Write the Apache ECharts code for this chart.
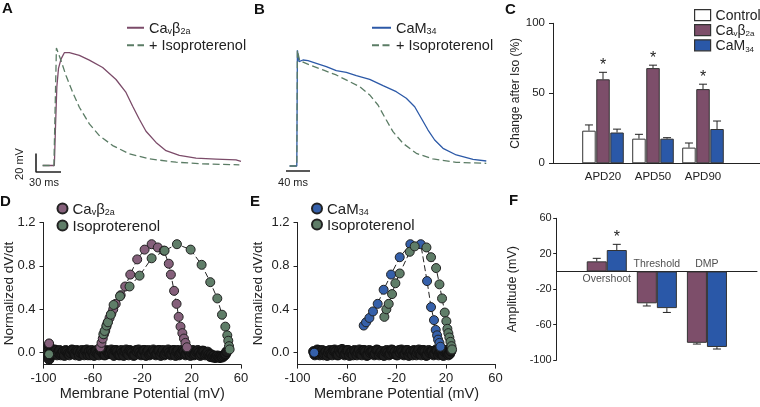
<!DOCTYPE html>
<html><head><meta charset="utf-8">
<script src="https://cdn.jsdelivr.net/npm/echarts@6/dist/echarts.min.js"></script>
<style>html,body{margin:0;padding:0;background:#fff}#c{width:760px;height:407px}</style>
</head><body><div id="c"></div>
<script>
// ================= DATA =================
// Panel A: action potentials, [time (ms), membrane potential (mV)]
const apA_cav = [[8,-85],[22,-85],[23.5,-40],[25,0],[27,20],[30,30],[34,37],[40,37],[52,34],[64,29],[80,21],[96,8],[108,-6],[116,-21],[124,-35],[132,-48],[144,-60],[156,-69],[172,-74],[192,-77],[216,-78],[240,-79],[246,-80.5]];
const apA_iso = [[8,-85],[21.5,-85],[24.5,42],[30,28.5],[36,12.3],[44,-5.8],[52,-22],[64,-40],[76,-52.6],[92,-63.4],[112,-72.4],[136,-77.8],[168,-81.4],[200,-83.2],[244,-84.2]];
// Panel B
const apB_cam = [[6,-85],[18,-85],[19,40],[21.7,27.8],[28.3,29.6],[36.7,28.8],[50.5,26],[67.2,22.4],[83.8,18],[100.5,16.3],[117.2,12.6],[139.5,8.7],[161.7,1.8],[183.8,-4.7],[200.5,-11.8],[214.5,-20.9],[225.5,-33.4],[236.7,-46.1],[247.8,-56.9],[261.7,-65.9],[283.8,-73.1],[311.7,-77.8],[333.8,-79.6]];
const apB_iso = [[6,-85],[18,-85],[19,40],[22.8,28.8],[39.5,24.2],[61.7,18.8],[83.8,13.4],[106.2,6.1],[122.8,0.7],[139.5,-8.2],[153.3,-19.1],[167.2,-35.3],[178.3,-47.9],[195,-60.5],[217.2,-71.3],[245,-77.4],[283.8,-81],[333.8,-82.1]];
const scaleA = {ms:30, mV:20};
const scaleB = {ms:40};

// Panel C: change after Iso (%)
const apdCats = ['APD20','APD50','APD90'];
const ctrlVals = [23.3,17.6,11.2], ctrlErr = [4.1,3.1,3.3];
const cavVals  = [60,68,53],       cavErr  = [5,2.1,3.5];
const camVals  = [22,17.6,24.5],   camErr  = [2.4,0.7,5.7];
const cavSigC  = [1,1,1];

// Panel D: phase plots [Vm (mV), normalized dV/dt]
const loopD_cav = [[-54,0.05],[-53,0.09],[-52,0.13],[-51,0.17],[-50,0.2],[-49,0.24],[-48,0.28],[-46.5,0.32],[-45,0.36],[-43.5,0.40],[-41.5,0.45],[-37.5,0.53],[-33.8,0.61],[-29.7,0.72],[-24.1,0.86],[-18.1,0.95],[-12.4,1.0],[-7.4,0.97],[-2.5,0.94],[1.5,0.82],[3.2,0.72],[5.8,0.57],[7.8,0.45],[9.5,0.33],[11,0.24],[12.5,0.18],[13.8,0.13],[15,0.09],[16.2,0.05]];
const loopD_iso = [[-51.5,0.17],[-50.5,0.2],[-49,0.25],[-47.8,0.28],[-45.5,0.35],[-43.2,0.44],[-38,0.52],[-30.3,0.61],[-22.2,0.71],[-12.4,0.87],[-1.9,0.94],[8.1,1.0],[19.2,0.95],[28.1,0.81],[35.1,0.65],[40.8,0.5],[44.6,0.35],[47.3,0.24],[48.9,0.16],[49.7,0.11],[50.3,0.06],[50.8,0.03]];
const restD_cav = [[-95.5,0.085]];
const restD_iso = [[-95.5,-0.015]];
const baseD = [[-95.5,0.06],[-95.5,0.02],[-95.5,-0.03],[-95.5,-0.06],[-94,0.01],[-93,-0.02],[-92,-0.01],[-91,0.025],[-90,0.02],[-89,-0.02],[-88,0],[-87,0.02],[-86,-0.02],[-85,-0.01],[-84,0.01],[-83,-0.025],[-82,0.02],[-81,0.01],[-80,-0.01],[-79,-0.02],[-78,0],[-77,0.025],[-76,0.02],[-75,-0.01],[-74,-0.02],[-73,0.02],[-72,0.01],[-71,-0.025],[-70,0],[-69,0.02],[-68,-0.01],[-67,-0.02],[-66,0.02],[-65,0.025],[-64,-0.02],[-63,0.01],[-62,-0.02],[-61,0.02],[-60,0],[-59,-0.025],[-58,0.01],[-57,0.02],[-56,-0.01],[-55,-0.02],[-54,0.02],[-53,0.025],[-52,0],[-51,-0.02],[-50,-0.02],[-49,0.02],[-48,0.01],[-47,-0.01],[-46,0],[-45,0.025],[-44,-0.01],[-43,-0.025],[-42,0.02],[-41,0.02],[-40,0.01],[-39,-0.02],[-38,-0.02],[-37,0.02],[-36,0],[-35,-0.025],[-34,0.01],[-33,0.025],[-32,-0.01],[-31,-0.02],[-30,0.02],[-29,0.01],[-28,0],[-27,-0.025],[-26,-0.02],[-25,0.02],[-24,0.01],[-23,0.025],[-22,0],[-21,-0.02],[-20,-0.01],[-19,0.02],[-18,0.02],[-17,-0.025],[-16,0.01],[-15,0.02],[-14,-0.02],[-13,-0.01],[-12,0],[-11,0.025],[-10,0.01],[-9,-0.02],[-8,-0.01],[-7,0.02],[-6,0.02],[-5,-0.025],[-4,0],[-3,0.02],[-2,-0.02],[-1,-0.01],[0,0.01],[1,0.025],[2,0],[3,-0.02],[4,-0.01],[5,0.02],[6,0.02],[7,-0.025],[8,0.01],[9,0.02],[10,-0.02],[11,-0.01],[12,0],[13,0.025],[14,0.01],[15,-0.02],[16,-0.01],[17,0.02],[18,0.01],[19,-0.025],[20,0],[21,0.02],[22,-0.02],[23,-0.01],[24,0.01],[25,0.02],[26,0],[27,-0.025],[28,-0.01],[29,0.015],[30,0.01],[31,-0.02],[32,-0.01],[33,0.005],[34,-0.02],[35,-0.035],[36,-0.02],[37,-0.04],[38,-0.03],[39,-0.045],[40,-0.04],[41,-0.03],[42,-0.04],[43,-0.045],[44,-0.035],[45,-0.04],[46,-0.03],[47,-0.02],[47.5,-0.01],[48.5,0.01]];

// Panel E
const loopE_cam = [[-46.5,0.25],[-44.6,0.28],[-41.9,0.32],[-39,0.38],[-35.2,0.45],[-30.4,0.58],[-24.4,0.72],[-17.4,0.88],[-8.8,1.0],[-0.4,1.0],[4.7,0.66],[7.9,0.42],[10.3,0.3],[11.7,0.21],[12.8,0.16],[13.6,0.12],[14.7,0.09],[15.5,0.055]];
const loopE_iso = [[-29.8,0.33],[-28.2,0.40],[-26.3,0.45],[-23.6,0.54],[-20.9,0.64],[-17.4,0.73],[-9.3,0.93],[-5.3,0.98],[4.2,0.97],[7.9,0.88],[12,0.78],[14.7,0.63],[16.8,0.5],[19,0.37],[20.3,0.29],[21.1,0.22],[21.9,0.18],[22.7,0.14],[23.6,0.1],[24.4,0.06],[24.9,0.03]];
const restE_cam = [[-86.5,0]];
const baseE = [[-87,0.01],[-86,-0.02],[-85,-0.01],[-84,0.025],[-83,0.02],[-82,-0.02],[-81,0],[-80,0.02],[-79,-0.02],[-78,-0.01],[-77,0.01],[-76,-0.025],[-75,0],[-74,0.02],[-73,-0.01],[-72,-0.02],[-71,0.02],[-70,0.025],[-69,0.01],[-68,-0.02],[-67,-0.02],[-66,0.02],[-65,0],[-64,0.03],[-63,0.015],[-62,-0.02],[-61,-0.01],[-60,0.02],[-59,0.02],[-58,-0.025],[-57,0],[-56,0.01],[-55,-0.02],[-54,0.02],[-53,0.01],[-52,-0.02],[-51,0],[-50,0.025],[-49,-0.01],[-48,-0.02],[-47,0.02],[-46,0.02],[-45,0.01],[-44,-0.025],[-43,-0.02],[-42,0.02],[-41,0],[-40,0.01],[-39,0.01],[-38,-0.02],[-37,-0.01],[-36,0.025],[-35,0.02],[-34,-0.02],[-33,0],[-32,0.01],[-31,-0.02],[-30,-0.025],[-29,0.01],[-28,0.02],[-27,0],[-26,-0.02],[-25,-0.01],[-24,0.025],[-23,0.02],[-22,-0.01],[-21,0.01],[-20,-0.02],[-19,-0.02],[-18,0.02],[-17,0],[-16,0.025],[-15,0.01],[-14,-0.02],[-13,-0.01],[-12,0.02],[-11,0.02],[-10,-0.025],[-9,0],[-8,0.01],[-7,-0.02],[-6,0.02],[-5,0.01],[-4,-0.02],[-3,0],[-2,0.025],[-1,-0.01],[0,-0.02],[1,0.02],[2,0.02],[3,0.01],[4,-0.025],[5,-0.02],[6,0.02],[7,0],[8,0.01],[9,0.01],[10,-0.02],[11,-0.01],[12,0.025],[13,0.02],[14,-0.02],[15,0],[16,0.01],[17,-0.02],[18,-0.025],[19,0.01],[20,0.02],[21,0],[22,-0.02],[23,-0.01],[24,0.015]];

// Panel F: amplitude (mV)
const ampCats = ['Overshoot','Threshold','DMP'];
const cavAmp = [11.4,-36,-80.6], cavAmpErr = [3.4,3,1.4];
const camAmp = [24.2,-41.4,-85.3], camAmpErr = [6.4,4.9,2.3];
const camAmpSig = [1,0,0];

// ================= STYLE =================
const FONT = '"Liberation Sans", Arial, Helvetica, sans-serif';
const INK = '#222';
const PURPLE = '#7b4b69', GREEN = '#5b7c65', BLUE = '#2c59a7';
const PURPLE_BAR = '#7d4e6a', BLUE_BAR = '#2a58a8';
const PURPLE_DOT = '#85607b', GREEN_DOT = '#5f7d68', BLUE_DOT = '#3560aa';

function mkRich(fs){
  return {
    n:{fontFamily:FONT,fontSize:fs,color:INK,lineHeight:fs+2,verticalAlign:'bottom'},
    s:{fontFamily:FONT,fontSize:Math.round(fs*0.6),color:INK,lineHeight:Math.round(fs*0.4),verticalAlign:'bottom'}
  };
}
const CAV = '{n|Ca}{s|v}{n|β}{s|2a}', CAM = '{n|CaM}{s|34}';
const LABELS = {
  A_cav:CAV, A_iso:'{n|+ Isoproterenol}', B_cam:CAM, B_iso:'{n|+ Isoproterenol}',
  C_ctrl:'{n|Control}', C_cav:CAV, C_cam:CAM,
  D_cav:CAV, D_iso:'{n|Isoproterenol}', E_cam:CAM, E_iso:'{n|Isoproterenol}'
};
const fmt = n => LABELS[n];

const A_X=[0,252], A_Y=[-92,50.7];
const B_X=[0,340], B_Y=[-90.4,51.2];
const DE_X=[-100,60], DE_Y=[-0.11,1.2];

const grids = [
  {left:36, top:40, width:210, height:132},
  {left:286, top:40, width:204, height:131},
  {left:553, top:23.3, width:207, height:140},
  {left:43.5, top:222.5, width:197.5, height:142.1},
  {left:297.5, top:222.5, width:198, height:142.1},
  {left:556.7, top:218.3, width:200.3, height:141.7}
].map(g=>Object.assign({outerBoundsMode:'none', containLabel:false}, g));

const axisLineS = {show:true, onZero:false, lineStyle:{color:INK, width:1}};
const tickS = {show:true, length:4, inside:false, lineStyle:{color:INK, width:1}};
function lbl(fs, margin, extra){ return Object.assign({fontFamily:FONT, fontSize:fs, color:INK, margin:margin}, extra||{}); }

const xAxes = [
  {gridIndex:0, type:'value', min:A_X[0], max:A_X[1], show:false},
  {gridIndex:1, type:'value', min:B_X[0], max:B_X[1], show:false},
  {gridIndex:2, type:'value', min:0, max:4.14, interval:1, axisLine:axisLineS, axisTick:{show:false}, splitLine:{show:false},
    axisLabel:lbl(11.5, 8, {formatter:v=>apdCats[v-1]||'', showMaxLabel:false})},
  {gridIndex:3, type:'value', min:DE_X[0], max:DE_X[1], interval:40, axisLine:axisLineS, axisTick:tickS, splitLine:{show:false},
    axisLabel:lbl(13, 7), name:'Membrane Potential (mV)', nameLocation:'middle', nameGap:22, nameMoveOverlap:false,
    nameTextStyle:{fontFamily:FONT, fontSize:14.5, color:INK}},
  {gridIndex:4, type:'value', min:DE_X[0], max:DE_X[1], interval:40, axisLine:axisLineS, axisTick:tickS, splitLine:{show:false},
    axisLabel:lbl(13, 7), name:'Membrane Potential (mV)', nameLocation:'middle', nameGap:22, nameMoveOverlap:false,
    nameTextStyle:{fontFamily:FONT, fontSize:14.5, color:INK}},
  {gridIndex:5, type:'value', min:0, max:4, interval:1, axisLine:{show:true, onZero:true, lineStyle:{color:INK,width:1}},
    axisTick:{show:false}, axisLabel:{show:false}, splitLine:{show:false}}
];
const dvTicks = [0,0.4,0.8,1.2];
const ampTicks = [-100,-60,-20,20,60];
const yAxes = [
  {gridIndex:0, type:'value', min:A_Y[0], max:A_Y[1], show:false},
  {gridIndex:1, type:'value', min:B_Y[0], max:B_Y[1], show:false},
  {gridIndex:2, type:'value', min:0, max:100, interval:50, axisLine:axisLineS, axisTick:tickS, splitLine:{show:false},
    axisLabel:lbl(11.5, 8), name:'Change after Iso (%)', nameLocation:'middle', nameGap:31, nameMoveOverlap:false,
    nameTextStyle:{fontFamily:FONT, fontSize:12, color:INK}},
  {gridIndex:3, type:'value', min:DE_Y[0], max:DE_Y[1], axisLine:axisLineS,
    axisTick:Object.assign({customValues:dvTicks}, tickS), splitLine:{show:false},
    axisLabel:lbl(13, 8, {customValues:dvTicks, formatter:v=>Number(v).toFixed(1)}),
    name:'Normalized dV/dt', nameLocation:'middle', nameGap:27, nameMoveOverlap:false,
    nameTextStyle:{fontFamily:FONT, fontSize:13.5, color:INK}},
  {gridIndex:4, type:'value', min:DE_Y[0], max:DE_Y[1], axisLine:axisLineS,
    axisTick:Object.assign({customValues:dvTicks}, tickS), splitLine:{show:false},
    axisLabel:lbl(13, 8, {customValues:dvTicks, formatter:v=>Number(v).toFixed(1)}),
    name:'Normalized dV/dt', nameLocation:'middle', nameGap:32, nameMoveOverlap:false,
    nameTextStyle:{fontFamily:FONT, fontSize:13.5, color:INK}},
  {gridIndex:5, type:'value', min:-100, max:60, interval:40, axisLine:axisLineS,
    axisTick:Object.assign({customValues:ampTicks}, tickS, {length:3.5}), splitLine:{show:false},
    axisLabel:lbl(11, 5, {customValues:ampTicks}),
    name:'Amplitude (mV)', nameLocation:'middle', nameGap:38, nameMoveOverlap:false,
    nameTextStyle:{fontFamily:FONT, fontSize:12.5, color:INK}}
];

// ---------- series helpers ----------
function trace(name, g, data, color, dashed){
  return {name, type:'line', xAxisIndex:g, yAxisIndex:g, data, symbol:'none', smooth:false, clip:false,
    lineStyle:{color, width:1.3, type: dashed ? [7,3.5] : 'solid'}, itemStyle:{color}, z:dashed?3:2};
}
function loop(name, g, data, fill){
  return {name, type:'line', xAxisIndex:g, yAxisIndex:g, data, symbol:'circle', symbolSize:9, showSymbol:true, clip:false,
    itemStyle:{color:fill, borderColor:INK, borderWidth:1}, lineStyle:{color:INK, width:1, type:[6,3]}, z:4};
}
function dots(name, g, data, fill, z, size){
  return {name, type:'scatter', xAxisIndex:g, yAxisIndex:g, data, symbol:'circle', symbolSize:size||9, clip:false,
    itemStyle:{color:fill, borderColor:'#111', borderWidth:1, opacity:1}, z:z||4};
}
function bars(name, g, vals, color, widthPct, gapPct){
  return {name, type:'bar', xAxisIndex:g, yAxisIndex:g, data: vals.map((v,i)=>[i+1, v]),
    barWidth: widthPct+'%', barGap: gapPct+'%',
    itemStyle:{color, borderColor:'#333', borderWidth:1}, z:2};
}
function errs(g, vals, errsArr, sigs, k, n, widthFrac, gapFrac){
  return {type:'custom', xAxisIndex:g, yAxisIndex:g, silent:true, z:5, clip:false,
    data: vals.map((v,i)=>[i+1, v, errsArr[i], sigs ? sigs[i] : 0]),
    renderItem(params, api){
      const xi = api.value(0), v = api.value(1), e = api.value(2), sig = api.value(3);
      const dir = v >= 0 ? 1 : -1;
      const unit = api.size([1,0])[0];
      const bw = unit*widthFrac, gap = bw*gapFrac;
      const total = n*bw + (n-1)*gap;
      const b = api.coord([xi, v]);
      const t = api.coord([xi, v + dir*e]);
      const cx = b[0] - total/2 + k*(bw+gap) + bw/2;
      const children = [
        {type:'line', shape:{x1:cx, y1:b[1], x2:cx, y2:t[1]}, style:{stroke:INK, lineWidth:1}},
        {type:'line', shape:{x1:cx-4, y1:t[1], x2:cx+4, y2:t[1]}, style:{stroke:INK, lineWidth:1}}
      ];
      if (sig) children.push({type:'text', style:{text:'*', x:cx, y:t[1]-dir*6.5, fill:INK,
        font:'16px '+FONT, align:'center', verticalAlign:'middle'}});
      return {type:'group', children};
    }};
}

const series = [
  // A
  trace('A_cav', 0, apA_cav, PURPLE, false),
  trace('A_iso', 0, apA_iso, GREEN, true),
  {type:'line', xAxisIndex:0, yAxisIndex:0, symbol:'none', clip:false, silent:true,
    data:[[A_X[0], A_Y[0]+scaleA.mV],[A_X[0], A_Y[0]],[A_X[0]+scaleA.ms, A_Y[0]]],
    lineStyle:{color:INK, width:1.6}},
  // B
  trace('B_cam', 1, apB_cam, BLUE, false),
  trace('B_iso', 1, apB_iso, GREEN, true),
  {type:'line', xAxisIndex:1, yAxisIndex:1, symbol:'none', clip:false, silent:true,
    data:[[B_X[0], B_Y[0]],[B_X[0]+scaleB.ms, B_Y[0]]], lineStyle:{color:INK, width:1.6}},
  // C
  bars('C_ctrl', 2, ctrlVals, '#ffffff', 27, 4),
  bars('C_cav', 2, cavVals, PURPLE_BAR, 27, 4),
  bars('C_cam', 2, camVals, BLUE_BAR, 27, 4),
  errs(2, ctrlVals, ctrlErr, null, 0, 3, 0.27, 0.04),
  errs(2, cavVals, cavErr, cavSigC, 1, 3, 0.27, 0.04),
  errs(2, camVals, camErr, null, 2, 3, 0.27, 0.04),
  // D
  dots('', 3, baseD, '#1c1c1c', 3, 10),
  loop('D_cav', 3, loopD_cav, PURPLE_DOT),
  loop('D_iso', 3, loopD_iso, GREEN_DOT),
  dots('D_cav', 3, restD_cav, PURPLE_DOT, 5),
  dots('D_iso', 3, restD_iso, GREEN_DOT, 5),
  // E
  dots('', 4, baseE, '#1c1c1c', 3, 10),
  loop('E_cam', 4, loopE_cam, BLUE_DOT),
  loop('E_iso', 4, loopE_iso, GREEN_DOT),
  dots('E_cam', 4, restE_cam, BLUE_DOT, 5),
  // F
  bars('F_cav', 5, cavAmp, PURPLE_BAR, 40, 0),
  bars('F_cam', 5, camAmp, BLUE_BAR, 40, 0),
  errs(5, cavAmp, cavAmpErr, null, 0, 2, 0.40, 0),
  errs(5, camAmp, camAmpErr, camAmpSig, 1, 2, 0.40, 0),
  {type:'scatter', xAxisIndex:5, yAxisIndex:5, symbolSize:0, silent:true, z:6,
    data: ampCats.map((c,i)=>({name:c, value:[i+1, 0], label:{position: cavAmp[i] >= 0 ? 'bottom' : 'top'}})),
    label:{show:true, formatter:'{b}', fontFamily:FONT, fontSize:10.5, color:INK, distance:2}}
];

function legend(left, top, data, fs, iconW, iconH, gap, icon){
  const o = {left, top, orient:'vertical', data, itemWidth:iconW, itemHeight:iconH, itemGap:gap, padding:0,
    selectedMode:false, formatter:fmt, textStyle:{fontFamily:FONT, fontSize:fs, color:INK, rich:mkRich(fs)}};
  if (icon) o.icon = icon;
  return o;
}

const T = (text, x, y, extra, rot) => ({type:'text', x, y, rotation:rot||0, silent:true,
  style:Object.assign({text, fill:INK, font:'11px '+FONT, align:'center', verticalAlign:'middle'}, extra||{})});
const letter = (text, x, y) => ({type:'text', x, y, silent:true,
  style:{text, fill:'#111', font:'bold 15px '+FONT, align:'left', verticalAlign:'top'}});

const option = {
  animation:false,
  backgroundColor:'#ffffff',
  grid: grids, xAxis: xAxes, yAxis: yAxes, series,
  legend: [
    Object.assign(legend(126, 21, ['A_cav','A_iso'], 14.5, 17, 12, 2.5), {itemStyle:{opacity:0}}),
    Object.assign(legend(371, 21, ['B_cam','B_iso'], 14.5, 19, 12, 2.5), {itemStyle:{opacity:0}}),
    Object.assign(legend(694, 9, ['C_ctrl','C_cav','C_cam'], 14, 16, 11, 1, 'rect'),
      {itemStyle:{borderColor:'#333', borderWidth:1.2}}),
    legend(56.5, 202, ['D_cav','D_iso'], 15, 10, 10, 2, 'circle'),
    legend(311, 202, ['E_cam','E_iso'], 15, 10, 10, 1, 'circle')
  ],
  graphic: [
    letter('A', 2, 1), letter('B', 254, 2), letter('C', 505, 2),
    letter('D', 0, 194), letter('E', 250, 194), letter('F', 509, 193),
    T('20 mV', 20, 164, null, Math.PI/2),
    T('30 ms', 44, 182.5),
    T('40 ms', 293, 183)
  ]
};
const chart = echarts.init(document.getElementById('c'), null, {renderer:'canvas', width:760, height:407});
chart.setOption(option);
</script></body></html>
